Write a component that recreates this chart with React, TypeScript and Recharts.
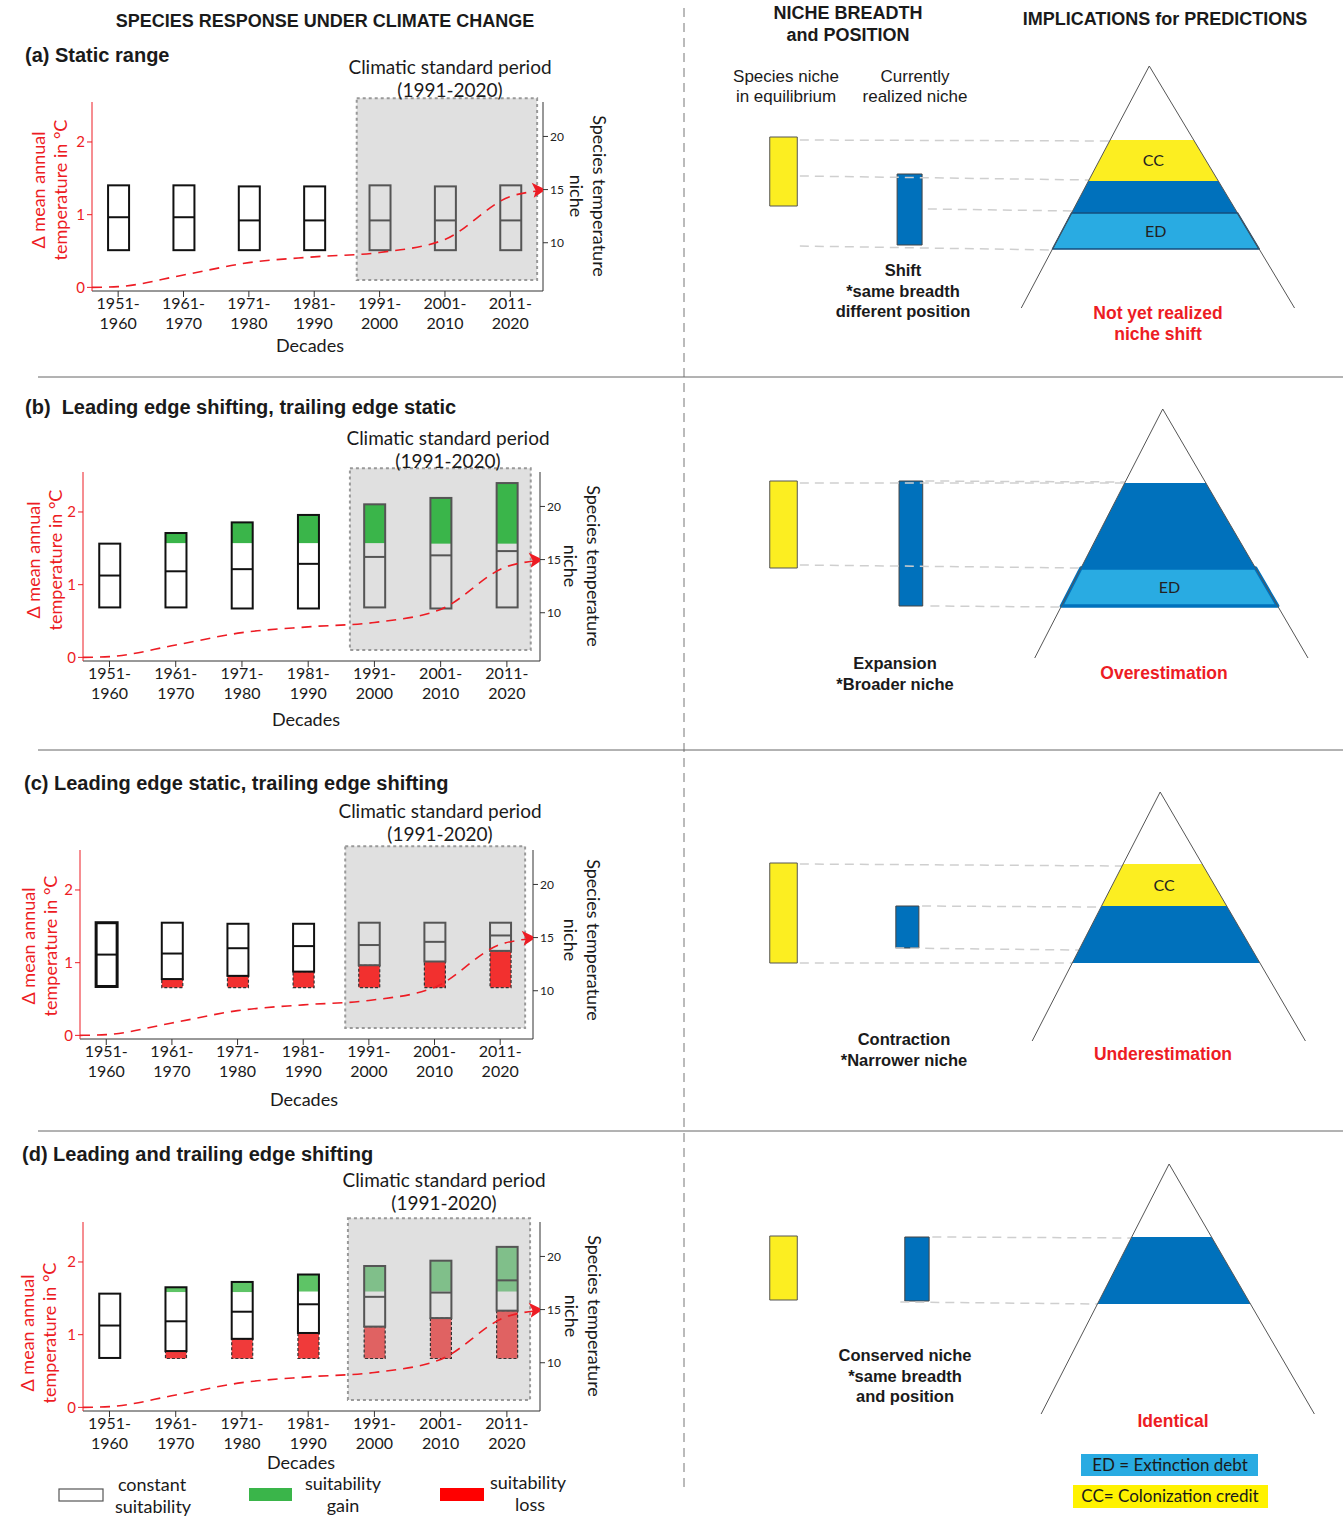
import React from 'react';
import { ComposedChart, Bar, Line, XAxis, YAxis, ReferenceArea, ReferenceLine } from 'recharts';

const FONT = "Lato, 'Open Sans', sans-serif";
const BOLD = "'Liberation Sans', Arial, sans-serif";
const RED = '#ed1c24';
const INK = '#1a1a1a';

// ---- decades (x axis of the left charts)
const decadeIndex = [0, 1, 2, 3, 4, 5, 6];
const decadeFrom = ['1951-', '1961-', '1971-', '1981-', '1991-', '2001-', '2011-'];
const decadeTo = ['1960', '1970', '1980', '1990', '2000', '2010', '2020'];

// ---- Δ mean annual temperature (°C), dashed red curve, same in every panel
const tempX = [-0.4, 0, 1, 2, 3, 4, 5, 6, 6.45];
const tempDelta = [0, 0.01, 0.17, 0.34, 0.42, 0.48, 0.66, 1.25, 1.33];

// ---- species temperature niche per decade (°C, right axis)
// (a) static range
const aBottom = [9.3, 9.3, 9.3, 9.3, 9.3, 9.3, 9.3];
const aLossTop = [9.3, 9.3, 9.3, 9.3, 9.3, 9.3, 9.3];
const aGainBottom = [15.4, 15.4, 15.3, 15.3, 15.4, 15.3, 15.4];
const aTop = [15.4, 15.4, 15.3, 15.3, 15.4, 15.3, 15.4];
const aMid = [12.4, 12.4, 12.1, 12.1, 12.1, 12.1, 12.1];
// (b) leading edge shifting
const bBottom = [10.5, 10.5, 10.4, 10.4, 10.5, 10.4, 10.5];
const bLossTop = [10.5, 10.5, 10.4, 10.4, 10.5, 10.4, 10.5];
const bGainBottom = [16.5, 16.55, 16.55, 16.55, 16.55, 16.5, 16.5];
const bTop = [16.5, 17.5, 18.5, 19.2, 20.2, 20.8, 22.2];
const bMid = [13.5, 13.9, 14.1, 14.6, 15.25, 15.4, 15.8];
// (c) trailing edge shifting
const cBottom = [10.4, 10.3, 10.3, 10.3, 10.3, 10.3, 10.3];
const cLossTop = [10.4, 11.1, 11.4, 11.8, 12.4, 12.75, 13.75];
const cGainBottom = [16.4, 16.4, 16.3, 16.3, 16.4, 16.4, 16.4];
const cTop = [16.4, 16.4, 16.3, 16.3, 16.4, 16.4, 16.4];
const cMid = [13.4, 13.5, 14.0, 14.2, 14.3, 14.6, 15.2];
// (d) both edges shifting
const dBottom = [10.45, 10.4, 10.4, 10.4, 10.4, 10.4, 10.4];
const dLossTop = [10.45, 11.1, 12.25, 12.8, 13.4, 14.2, 14.9];
const dGainBottom = [16.5, 16.65, 16.65, 16.7, 16.7, 16.7, 16.7];
const dTop = [16.5, 17.1, 17.6, 18.3, 19.1, 19.6, 20.9];
const dMid = [13.5, 13.9, 14.8, 15.5, 16.2, 16.6, 17.75];

// climatic standard period 1991-2020 (y in Δ°C)
const periodY = [0.1, 2.6];

// ---- right side: niche breadth / position (arbitrary diagram units)
const eqColumn = [1.09, 1.52];
const realColumn = [[3.08, 3.47], [3.11, 3.48], [3.06, 3.42], [3.2, 3.58]];
const eqNiche = [[11.4, 18.3], [10.2, 18.9], [8.7, 18.7], [12.0, 18.4]];
const realNiche = [[7.5, 14.6], [6.4, 18.9], [10.2, 14.4], [11.9, 18.3]];

const triApexX = [7.02, 7.23, 7.19, 7.33];
const triApexY = [25.4, 26.1, 25.8, 25.6];
const triBaseY = [1.2, 1.2, 0.9, 0.6];
const triLeftHalf = 2.0;
const triRightHalf = 2.27;

const bandsA = [
  { kind: 'cc', lo: 13.9, hi: 18.0 },
  { kind: 'overlap', lo: 10.7, hi: 13.9 },
  { kind: 'ed', lo: 7.1, hi: 10.7 },
];
const bandsB = [
  { kind: 'overlap', lo: 6.4, hi: 18.7 },
  { kind: 'ed', lo: 6.4, hi: 10.2 },
];
const bandsC = [
  { kind: 'cc', lo: 14.4, hi: 18.6 },
  { kind: 'overlap', lo: 8.7, hi: 14.4 },
];
const bandsD = [{ kind: 'overlap', lo: 11.6, hi: 18.3 }];

const linksA = [
  { x0: 1.56, y0: 18.0, y1: 17.9 },
  { x0: 1.56, y0: 14.4, y1: 14.0 },
  { x0: 3.56, y0: 11.1, y1: 10.9 },
  { x0: 1.56, y0: 7.4, y1: 7.0 },
];
const linksB = [
  { x0: 1.56, y0: 18.7, y1: 18.7 },
  { x0: 3.52, y0: 18.9, y1: 18.8 },
  { x0: 1.56, y0: 10.5, y1: 10.2 },
  { x0: 3.6, y0: 6.4, y1: 6.3 },
];
const linksC = [
  { x0: 1.56, y0: 18.6, y1: 18.4 },
  { x0: 3.47, y0: 14.4, y1: 14.3 },
  { x0: 3.05, y0: 10.2, y1: 10.0 },
  { x0: 1.56, y0: 8.7, y1: 8.7 },
];
const linksD = [
  { x0: 3.63, y0: 18.3, y1: 18.2 },
  { x0: 3.13, y0: 11.8, y1: 11.6 },
];

const bandColor: Record<string, string> = { cc: '#fcee21', overlap: '#0071bc', ed: '#29abe2' };
const bandLabel: Record<string, string> = { cc: 'CC', ed: 'ED' };

// ---- layout of the four rows
const leftPanels = [
  { px: 92, py: 102, plotW: 451, period: [3.65, 6.41], heavy: -1, bottom: aBottom, lossTop: aLossTop, gainBottom: aGainBottom, top: aTop, mid: aMid, gain: ['#3ab54a', '#3ab54a'], loss: ['#ef3b3b', '#ef3b3b'] },
  { px: 83, py: 472, plotW: 457, period: [3.63, 6.36], heavy: -1, bottom: bBottom, lossTop: bLossTop, gainBottom: bGainBottom, top: bTop, mid: bMid, gain: ['#3ab54a', '#3ab54a'], loss: ['#ef3b3b', '#ef3b3b'] },
  { px: 80, py: 850, plotW: 453, period: [3.64, 6.38], heavy: 0, bottom: cBottom, lossTop: cLossTop, gainBottom: cGainBottom, top: cTop, mid: cMid, gain: ['#3ab54a', '#3ab54a'], loss: ['#f2302f', '#f2302f'] },
  { px: 83, py: 1222, plotW: 457, period: [3.6, 6.35], heavy: -1, bottom: dBottom, lossTop: dLossTop, gainBottom: dGainBottom, top: dTop, mid: dMid, gain: ['#5ec466', '#80bf8a'], loss: ['#f03a3a', '#e06262'] },
];
const rightTops = [50, 400, 780, 1150];
const rightBands = [bandsA, bandsB, bandsC, bandsD];
const rightLinks = [linksA, linksB, linksC, linksD];
const edStroke = [1.5, 3.5, 0, 0];

const leftText = [
  { title: '(a) Static range', tx: 25, ty: 62, cx: 450, cy: 74, dx: 38, dy: 190, nx: 600, ny: 196, ex: 310, ey: 352 },
  { title: '(b)  Leading edge shifting, trailing edge static', tx: 25, ty: 414, cx: 448, cy: 445, dx: 33, dy: 560, nx: 594, ny: 566, ex: 306, ey: 726 },
  { title: '(c) Leading edge static, trailing edge shifting', tx: 24, ty: 790, cx: 440, cy: 818, dx: 28, dy: 946, nx: 594, ny: 940, ex: 304, ey: 1106 },
  { title: '(d) Leading and trailing edge shifting', tx: 22, ty: 1161, cx: 444, cy: 1187, dx: 27, dy: 1333, nx: 595, ny: 1316, ex: 301, ey: 1469 },
];
const rightText = [
  { lines: ['Shift', '*same breadth', 'different position'], x: 903, y: 276, verdict: ['Not yet realized', 'niche shift'], vx: 1158, vy: 319 },
  { lines: ['Expansion', '*Broader niche'], x: 895, y: 669, verdict: ['Overestimation'], vx: 1164, vy: 679 },
  { lines: ['Contraction', '*Narrower niche'], x: 904, y: 1045, verdict: ['Underestimation'], vx: 1163, vy: 1060 },
  { lines: ['Conserved niche', '*same breadth', 'and position'], x: 905, y: 1361, verdict: ['Identical'], vx: 1173, vy: 1427 },
];

const PLOT_H = 189;

function NicheBox(props: any) {
  const { x, y, width, height, payload, gain, loss, index, heavy } = props;
  if (x == null || !payload) return <g />;
  const y0 = Math.min(y, y + height);
  const h = Math.abs(height);
  const [lo, hi] = payload.range;
  const py = (v: number) => y0 + (h * (hi - v)) / (hi - lo);
  const inside = index >= 4;
  const edge = inside ? '#555' : '#111';
  const sw = index === heavy ? 3 : 2;
  const gainFill = gain[inside ? 1 : 0];
  const lossFill = loss[inside ? 1 : 0];
  const { lossTop, gainBottom, mid } = payload;
  return (
    <g>
      {lossTop > lo && (
        <rect x={x} y={py(lossTop)} width={width} height={py(lo) - py(lossTop)} fill={lossFill} stroke="#333" strokeWidth={1.2} strokeDasharray="3 2" />
      )}
      <rect x={x} y={py(gainBottom)} width={width} height={py(lossTop) - py(gainBottom)} fill={inside ? 'none' : '#fff'} />
      {hi > gainBottom && <rect x={x} y={py(hi)} width={width} height={py(gainBottom) - py(hi)} fill={gainFill} />}
      <rect x={x} y={py(hi)} width={width} height={py(lossTop) - py(hi)} fill="none" stroke={edge} strokeWidth={sw} />
      <line x1={x} x2={x + width} y1={py(mid)} y2={py(mid)} stroke={edge} strokeWidth={2} />
    </g>
  );
}

function DecadeTick(props: any) {
  const { x, y, payload } = props;
  const i = Math.round(payload.value);
  return (
    <text x={x} y={y} textAnchor="middle" fontFamily={FONT} fontSize={16} fill={INK}>
      <tspan x={x} dy="0.6em">{decadeFrom[i]}</tspan>
      <tspan x={x} dy="1.25em">{decadeTo[i]}</tspan>
    </text>
  );
}

function ArrowDot(props: any) {
  const { cx, cy, index } = props;
  if (index !== tempX.length - 1 || cx == null) return <g key={index} />;
  return (
    <polygon
      key={index}
      points={`${cx + 6},${cy - 1} ${cx - 8},${cy - 8} ${cx - 4},${cy} ${cx - 6},${cy + 7}`}
      fill={RED}
    />
  );
}

function DecadeChart({ p }: { p: (typeof leftPanels)[number] }) {
  const rows = decadeIndex.map((x, i) => ({
    x,
    range: [p.bottom[i], p.top[i]],
    lossTop: p.lossTop[i],
    gainBottom: p.gainBottom[i],
    mid: p.mid[i],
  }));
  const temp = tempX.map((x, i) => ({ x, t: tempDelta[i] }));
  return (
    <div style={{ position: 'absolute', left: p.px - 30, top: p.py - 5 }}>
      <ComposedChart width={p.plotW + 60} height={PLOT_H + 55} data={rows} margin={{ top: 5, right: 0, bottom: 0, left: 0 }}>
        <XAxis
          type="number"
          dataKey="x"
          domain={[-0.4, 6.5]}
          allowDataOverflow
          ticks={decadeIndex}
          interval={0}
          height={50}
          stroke="#333"
          tickSize={6}
          tick={(t: any) => <DecadeTick {...t} />}
        />
        <YAxis
          yAxisId="temp"
          domain={[-0.05, 2.55]}
          allowDataOverflow
          ticks={[0, 1, 2]}
          width={30}
          stroke={RED}
          tickSize={5}
          tick={{ fill: RED, fontSize: 15, fontFamily: FONT }}
        />
        <YAxis
          yAxisId="niche"
          orientation="right"
          domain={[5.46, 23.24]}
          allowDataOverflow
          ticks={[10, 15, 20]}
          width={30}
          stroke="#333"
          tickSize={5}
          tick={{ fill: '#222', fontSize: 12, fontFamily: FONT }}
        />
        <ReferenceArea
          yAxisId="temp"
          x1={p.period[0]}
          x2={p.period[1]}
          y1={periodY[0]}
          y2={periodY[1]}
          fill="#e0e0e0"
          fillOpacity={1}
          stroke="#999"
          strokeWidth={2}
          strokeDasharray="3 3"
          ifOverflow="visible"
        />
        <Bar
          yAxisId="niche"
          dataKey="range"
          barSize={21}
          isAnimationActive={false}
          shape={(s: any) => <NicheBox {...s} gain={p.gain} loss={p.loss} heavy={p.heavy} />}
        />
        <Line
          yAxisId="temp"
          data={temp}
          dataKey="t"
          type="monotone"
          stroke={RED}
          strokeWidth={1.6}
          strokeDasharray="10 7"
          dot={(d: any) => <ArrowDot key={d.index} {...d} />}
          activeDot={false}
          isAnimationActive={false}
        />
      </ComposedChart>
    </div>
  );
}

function Trapezoid(props: any) {
  const { x, y, width, height, fl, fr, fill, edgeStroke, edgeWidth } = props;
  if (x == null) return <g />;
  const pts = [
    [x, y + height],
    [x + width, y + height],
    [x + width - fr * width, y],
    [x + fl * width, y],
  ];
  return (
    <polygon
      points={pts.map((q) => q.join(',')).join(' ')}
      fill={fill}
      stroke={edgeWidth ? edgeStroke : 'none'}
      strokeWidth={edgeWidth || 0}
      strokeLinejoin="round"
    />
  );
}

function NicheChart({ i }: { i: number }) {
  const ax = triApexX[i];
  const ay = triApexY[i];
  const by = triBaseY[i];
  const leftAt = (v: number) => ax - (triLeftHalf * (ay - v)) / (ay - by);
  const rightAt = (v: number) => ax + (triRightHalf * (ay - v)) / (ay - by);
  const tri = [
    { x: leftAt(by), y: by },
    { x: ax, y: ay },
    { x: rightAt(by), y: by },
  ];
  return (
    <div style={{ position: 'absolute', left: 700, top: rightTops[i] }}>
      <ComposedChart width={640} height={270} data={tri} margin={{ top: 0, right: 0, bottom: 0, left: 0 }}>
        <XAxis type="number" dataKey="x" domain={[0, 10]} allowDataOverflow hide />
        <YAxis type="number" domain={[0, 27]} allowDataOverflow hide />
        {rightLinks[i].map((l, k) => (
          <ReferenceLine
            key={'l' + k}
            segment={[{ x: l.x0, y: l.y0 }, { x: leftAt(l.y1), y: l.y1 }]}
            stroke="#cfcfcf"
            strokeWidth={1.5}
            strokeDasharray="9 6"
          />
        ))}
        <ReferenceArea x1={eqColumn[0]} x2={eqColumn[1]} y1={eqNiche[i][0]} y2={eqNiche[i][1]} fill="#fcee21" fillOpacity={1} stroke="#555" strokeWidth={1} />
        <ReferenceArea x1={realColumn[i][0]} x2={realColumn[i][1]} y1={realNiche[i][0]} y2={realNiche[i][1]} fill="#0071bc" fillOpacity={1} stroke="#444" strokeWidth={1} />
        {rightBands[i].map((b, k) => {
          const x1 = leftAt(b.lo);
          const x2 = rightAt(b.lo);
          const fl = (leftAt(b.hi) - x1) / (x2 - x1);
          const fr = (x2 - rightAt(b.hi)) / (x2 - x1);
          const sw = b.kind === 'ed' ? edStroke[i] : 0;
          return (
            <ReferenceArea
              key={'b' + k}
              x1={x1}
              x2={x2}
              y1={b.lo}
              y2={b.hi}
              fillOpacity={1}
              shape={(s: any) => (
                <Trapezoid {...s} fl={fl} fr={fr} fill={bandColor[b.kind]} edgeStroke={i === 1 ? '#0071bc' : '#134e7d'} edgeWidth={sw} />
              )}
              label={bandLabel[b.kind] ? { value: bandLabel[b.kind], position: 'center', fill: '#222', fontSize: 16, fontFamily: FONT } : undefined}
            />
          );
        })}
        <Line dataKey="y" type="linear" stroke="#555" strokeWidth={1} dot={false} activeDot={false} isAnimationActive={false} />
      </ComposedChart>
    </div>
  );
}

function Overlay() {
  return (
    <svg width={1343} height={1516} style={{ position: 'absolute', left: 0, top: 0, pointerEvents: 'none' }}>
      {/* separators */}
      <line x1={684} x2={684} y1={8} y2={1490} stroke="#777" strokeWidth={1} strokeDasharray="9 6" />
      {[377, 750, 1131].map((y) => (
        <line key={y} x1={38} x2={1343} y1={y} y2={y} stroke="#666" strokeWidth={1} />
      ))}

      {/* column headings */}
      <g fontFamily={BOLD} fontWeight="bold" fontSize={18} fill={INK} textAnchor="middle">
        <text x={325} y={27}>SPECIES RESPONSE UNDER CLIMATE CHANGE</text>
        <text x={848} y={19}>NICHE BREADTH</text>
        <text x={848} y={41}>and POSITION</text>
        <text x={1165} y={25}>IMPLICATIONS for PREDICTIONS</text>
      </g>
      <g fontFamily={BOLD} fontSize={17} fill={INK} textAnchor="middle">
        <text x={786} y={82}>Species niche</text>
        <text x={786} y={102}>in equilibrium</text>
        <text x={915} y={82}>Currently</text>
        <text x={915} y={102}>realized niche</text>
      </g>

      {/* left panel texts */}
      {leftText.map((t, k) => (
        <g key={k}>
          <text x={t.tx} y={t.ty} fontFamily={BOLD} fontWeight="bold" fontSize={20} fill={INK} style={{ whiteSpace: 'pre' }}>
            {t.title}
          </text>
          <g fontFamily={FONT} fontSize={19} fill={INK} textAnchor="middle">
            <text x={t.cx} y={t.cy}>Climatic standard period</text>
            <text x={t.cx} y={t.cy + 23}>(1991-2020)</text>
          </g>
          <text x={t.ex} y={t.ey} fontFamily={FONT} fontSize={18} fill={INK} textAnchor="middle">
            Decades
          </text>
          <g fontFamily={FONT} fontSize={18} fill={RED} textAnchor="middle" dominantBaseline="central">
            <text transform={`translate(${t.dx},${t.dy}) rotate(-90)`}>Δ mean annual</text>
            <text transform={`translate(${t.dx + 22},${t.dy}) rotate(-90)`}>temperature in °C</text>
          </g>
          <g fontFamily={FONT} fontSize={18} fill={INK} textAnchor="middle" dominantBaseline="central">
            <text transform={`translate(${t.nx},${t.ny}) rotate(90)`}>Species temperature</text>
            <text transform={`translate(${t.nx - 23},${t.ny}) rotate(90)`}>niche</text>
          </g>
        </g>
      ))}

      {/* right panel texts */}
      {rightText.map((t, k) => (
        <g key={k} fontFamily={BOLD} fontWeight="bold" textAnchor="middle">
          {t.lines.map((s, j) => (
            <text key={j} x={t.x} y={t.y + j * 20.5} fontSize={16.5} fill={INK}>
              {s}
            </text>
          ))}
          {t.verdict.map((s, j) => (
            <text key={'v' + j} x={t.vx} y={t.vy + j * 21} fontSize={17.5} fill={RED}>
              {s}
            </text>
          ))}
        </g>
      ))}

      {/* legends */}
      <rect x={1081} y={1454} width={177} height={22} fill="#29abe2" />
      <rect x={1073} y={1485} width={195} height={23} fill="#fff200" />
      <g fontFamily={FONT} fontSize={17} fill={INK} textAnchor="middle">
        <text x={1170} y={1471}>ED = Extinction debt</text>
        <text x={1170} y={1502}>CC= Colonization credit</text>
      </g>

      <rect x={59} y={1489} width={44} height={12} fill="#fff" stroke="#555" strokeWidth={1.2} />
      <rect x={249} y={1488} width={43} height={13} fill="#3ab54a" />
      <rect x={440} y={1488} width={44} height={13} fill="#ff0000" />
      <g fontFamily={FONT} fontSize={18} fill={INK} textAnchor="middle">
        <text x={152} y={1491}>constant</text>
        <text x={153} y={1513}>suitability</text>
        <text x={343} y={1490}>suitability</text>
        <text x={343} y={1512}>gain</text>
        <text x={528} y={1489}>suitability</text>
        <text x={530} y={1511}>loss</text>
      </g>
    </svg>
  );
}

export default function App() {
  return (
    <div style={{ position: 'absolute', left: 0, top: 0, width: 1343, height: 1516, background: '#fff', overflow: 'hidden' }}>
      {leftPanels.map((p, k) => (
        <DecadeChart key={k} p={p} />
      ))}
      {rightTops.map((_, k) => (
        <NicheChart key={k} i={k} />
      ))}
      <Overlay />
    </div>
  );
}
